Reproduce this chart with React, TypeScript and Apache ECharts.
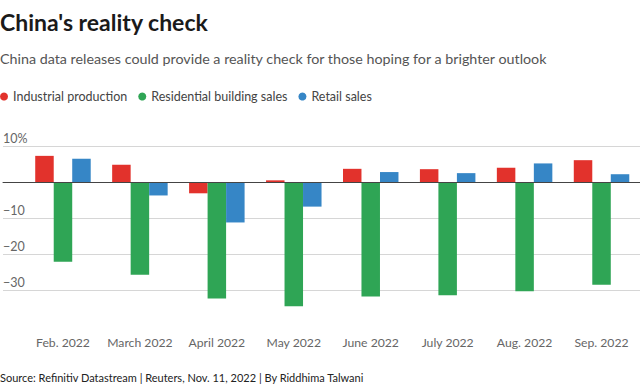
import React, { useEffect, useRef } from "react";
import * as echarts from "echarts";

const categories = [
  "Feb. 2022",
  "March 2022",
  "April 2022",
  "May 2022",
  "June 2022",
  "July 2022",
  "Aug. 2022",
  "Sep. 2022",
];
const industrialProduction = [7.4, 4.9, -3.0, 0.6, 3.8, 3.7, 4.1, 6.2];
const residentialSales = [-22.0, -25.6, -32.2, -34.4, -31.7, -31.3, -30.2, -28.4];
const retailSales = [6.6, -3.6, -11.1, -6.7, 2.9, 2.6, 5.3, 2.3];
const seriesNames = ["Industrial production", "Residential building sales", "Retail sales"];
const seriesColors = ["#e2322c", "#2fa555", "#3686c6"];
const yMin = -40;
const yMax = 10;
const yStep = 10;

const FONT = "Lato, 'Source Sans Pro', sans-serif";

export default function App() {
  const ref = useRef<HTMLDivElement>(null);

  useEffect(() => {
    if (!ref.current) return;
    const chart = echarts.init(ref.current, undefined, { renderer: "svg" });
    const gridTop = 146.5;
    const gridBottom = 61.5;
    const values = [industrialProduction, residentialSales, retailSales];
    chart.setOption({
      animation: false,
      textStyle: { fontFamily: FONT },
      title: [
        {
          text: "China's reality check",
          left: 0,
          top: 10,
          padding: 0,
          textStyle: { fontFamily: FONT, fontSize: 23, fontWeight: "bold", color: "#1a1a1a" },
        },
        {
          text: "China data releases could provide a reality check for those hoping for a brighter outlook",
          left: 0,
          top: 51,
          padding: 0,
          textStyle: { fontFamily: FONT, fontSize: 14.3, fontWeight: "normal", color: "#555" },
        },
        {
          text: "Source: Refinitiv Datastream | Reuters, Nov. 11, 2022 | By Riddhima Talwani",
          left: 0,
          top: 372,
          padding: 0,
          textStyle: { fontFamily: FONT, fontSize: 11, fontWeight: "normal", color: "#222" },
        },
      ],
      legend: {
        data: seriesNames,
        left: 0,
        top: 90,
        padding: 0,
        icon: "circle",
        itemWidth: 8,
        itemHeight: 8,
        itemGap: 11,
        textStyle: { fontFamily: FONT, fontSize: 12.5, color: "#444" },
      },
      grid: [
        { left: 0, right: 0, top: gridTop, bottom: gridBottom },
        { left: 24.5, right: 0, top: gridTop, bottom: gridBottom },
      ],
      xAxis: [
        {
          type: "value",
          gridIndex: 0,
          min: 0,
          max: 1,
          z: 5,
          axisLine: { show: true, onZero: true, lineStyle: { color: "#444", width: 1 } },
          axisTick: { show: false },
          axisLabel: { show: false },
          splitLine: { show: false },
        },
        {
          type: "category",
          gridIndex: 1,
          data: categories,
          axisLine: { show: false },
          axisTick: { show: false },
          axisLabel: { interval: 0, color: "#666", fontSize: 12.2, margin: 10, fontFamily: FONT },
        },
      ],
      yAxis: [
        {
          type: "value",
          gridIndex: 0,
          min: yMin,
          max: yMax,
          interval: yStep,
          axisLine: { show: false },
          axisTick: { show: false },
          axisLabel: {
            inside: true,
            margin: 0,
            verticalAlign: "bottom",
            padding: [0, 0, 2, 0],
            color: "#666",
            fontSize: 12.5,
            fontFamily: FONT,
            showMinLabel: false,
            formatter: (v: number) => {
              if (v === yMax) return v + "%";
              if (v === 0 || v === yMin) return "";
              return v < 0 ? "\u2212" + Math.abs(v) : String(v);
            },
          },
          splitLine: { show: true, showMinLine: false, lineStyle: { color: "#d6d6d6", width: 1 } },
        },
        {
          type: "value",
          gridIndex: 1,
          min: yMin,
          max: yMax,
          interval: yStep,
          show: false,
          splitLine: { show: false },
        },
      ],
      series: seriesNames.map((name, i) => ({
        name,
        type: "bar",
        xAxisIndex: 1,
        yAxisIndex: 1,
        data: values[i],
        barWidth: 18.5,
        barGap: "0%",
        itemStyle: { color: seriesColors[i] },
      })),
    });
    return () => chart.dispose();
  }, []);

  return (
    <div
      ref={ref}
      style={{ position: "absolute", left: 0, top: 0, width: 640, height: 388, background: "#fff" }}
    />
  );
}
